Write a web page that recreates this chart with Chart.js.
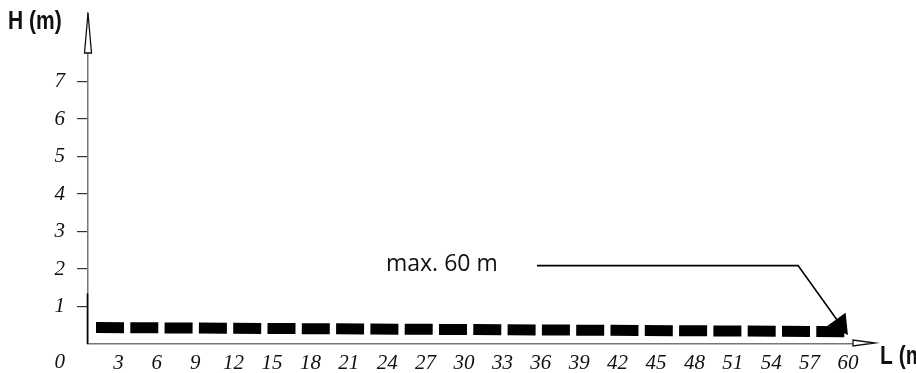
<!DOCTYPE html>
<html>
<head>
<meta charset="utf-8">
<script src="https://cdn.jsdelivr.net/npm/chart.js@4.4.1/dist/chart.umd.min.js"></script>
<style>
  body { margin: 0; background: #fff; }
  canvas { display: block; }
</style>
</head>
<body>
<canvas id="myChart" width="916" height="373"></canvas>
<script>
// tick labels
const xTicks = [3, 6, 9, 12, 15, 18, 21, 24, 27, 30, 33, 36, 39, 42, 45, 48, 51, 54, 57, 60];
const yTicks = [0, 1, 2, 3, 4, 5, 6, 7];

// the dashed run (length in m, height in m)
const runL = [1.25, 59.77];
const runH = [0.44, 0.33];

// leader line from the "max. 60 m" note to the end of the run
const leaderL = [35.7, 56.1, 59.4];
const leaderH = [2.09, 2.09, 0.52];

const noteText = 'max. 60 m';
const yTitle = 'H (m)';
const xTitle = 'L (m)';

// narrow bold label, squeezed a bit like the original
function narrowText(ctx, txt, x, y) {
  ctx.save();
  ctx.translate(x, y);
  ctx.scale(0.84, 1);
  ctx.fillText(txt, 0, 0);
  ctx.restore();
}

const decor = {
  id: 'decor',
  afterDraw(chart) {
    const ctx = chart.ctx;
    const a = chart.chartArea;
    const ys = chart.scales.y;
    ctx.save();
    // short dark stroke at the foot of the H axis
    ctx.strokeStyle = '#000';
    ctx.lineWidth = 1.6;
    ctx.beginPath();
    ctx.moveTo(a.left - 0.5, ys.getPixelForValue(1.35));
    ctx.lineTo(a.left - 0.5, a.bottom);
    ctx.stroke();
    // open arrow on top of the H axis
    ctx.fillStyle = '#fff';
    ctx.strokeStyle = '#111';
    ctx.lineWidth = 1.3;
    ctx.beginPath();
    ctx.moveTo(a.left, a.top);
    ctx.lineTo(a.left - 3.5, a.top + 40);
    ctx.lineTo(a.left + 3.5, a.top + 40);
    ctx.closePath();
    ctx.fill();
    ctx.stroke();
    // open arrow at the end of the L axis
    ctx.beginPath();
    ctx.moveTo(a.right + 19, a.bottom - 1);
    ctx.lineTo(a.right - 3, a.bottom - 4);
    ctx.lineTo(a.right - 3, a.bottom + 2);
    ctx.closePath();
    ctx.fill();
    ctx.stroke();

    ctx.fillStyle = '#111';
    ctx.textBaseline = 'middle';
    ctx.font = 'bold 25px "Liberation Sans", sans-serif';
    narrowText(ctx, yTitle, 8, 22);
    narrowText(ctx, xTitle, 880, 357);
    ctx.font = '23px "Open Sans", sans-serif';
    ctx.fillText(noteText, 386, 264);
    ctx.restore();
  }
};

const data = {
  datasets: [
    {
      data: runL.map((l, i) => ({ x: l, y: runH[i] })),
      borderColor: '#000',
      borderWidth: 11,
      borderDash: [28, 6.3],
      borderCapStyle: 'butt',
      pointRadius: 0,
      fill: false
    },
    {
      data: leaderL.map((l, i) => ({ x: l, y: leaderH[i] })),
      borderColor: '#000',
      backgroundColor: '#000',
      borderWidth: 1.6,
      pointStyle: 'triangle',
      pointRadius: [0, 0, 13],
      pointRotation: [0, 0, 144],
      pointBorderWidth: 0,
      fill: false
    }
  ]
};

const config = {
  type: 'line',
  data: data,
  options: {
    responsive: false,
    animation: false,
    devicePixelRatio: 1,
    layout: { padding: { top: 10, right: 60, left: 0, bottom: 0 } },
    plugins: { legend: { display: false }, tooltip: { enabled: false } },
    scales: {
      x: {
        type: 'linear',
        min: 0.625,
        max: 60.625,
        afterFit: s => { s.height = 29; s.paddingLeft = 0; s.paddingRight = 0; },
        afterBuildTicks: s => { s.ticks = xTicks.map(v => ({ value: v })); },
        grid: { display: false, drawTicks: false },
        border: { display: true, color: '#777', width: 1.5 },
        ticks: {
          autoSkip: false,
          maxRotation: 0,
          padding: 7,
          color: '#111',
          font: { family: '"Liberation Serif", serif', style: 'italic', size: 21 }
        }
      },
      y: {
        type: 'linear',
        min: 0,
        max: 8.83,
        afterFit: s => { s.width = 88; s.paddingTop = 0; s.paddingBottom = 0; },
        afterBuildTicks: s => { s.ticks = yTicks.map(v => ({ value: v })); },
        grid: {
          drawOnChartArea: false,
          drawTicks: true,
          tickLength: 11,
          lineWidth: 1.2,
          color: c => (c.tick && c.tick.value === 0) ? 'rgba(0,0,0,0)' : '#333'
        },
        border: { display: true, color: '#777', width: 1.5 },
        ticks: {
          autoSkip: false,
          padding: 12,
          color: '#111',
          font: { family: '"Liberation Serif", serif', style: 'italic', size: 21, lineHeight: 1.75 },
          callback: v => v === 0 ? ['', '0'] : String(v)
        }
      }
    }
  },
  plugins: [decor]
};

new Chart(document.getElementById('myChart'), config);
</script>
</body>
</html>
